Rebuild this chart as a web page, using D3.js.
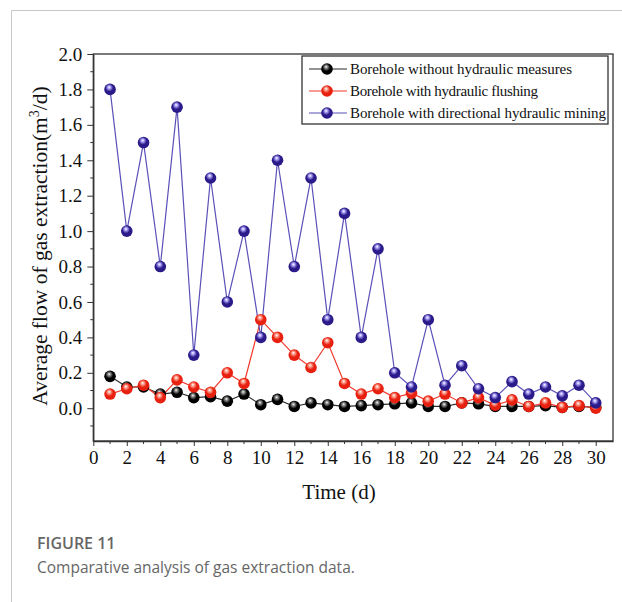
<!DOCTYPE html>
<html>
<head>
<meta charset="utf-8">
<script src="https://cdn.jsdelivr.net/npm/d3@7"></script>
<style>
  body { margin: 0; background: #fff; }
  svg { display: block; }
</style>
</head>
<body>
<div id="chart"></div>
<script>
// days on the x axis
var days = d3.range(1, 31);

// average gas flow (m3/d)
var withoutHydraulic = [0.18, 0.12, 0.12, 0.08, 0.09, 0.06, 0.065, 0.04, 0.08, 0.02,
  0.05, 0.01, 0.03, 0.02, 0.01, 0.015, 0.02, 0.025, 0.03, 0.01,
  0.01, 0.03, 0.025, 0.01, 0.01, 0.01, 0.015, 0.005, 0.01, 0.005];
var hydraulicFlushing = [0.08, 0.11, 0.13, 0.06, 0.16, 0.12, 0.09, 0.2, 0.14, 0.5,
  0.4, 0.3, 0.23, 0.37, 0.14, 0.08, 0.11, 0.06, 0.085, 0.04,
  0.08, 0.03, 0.06, 0.017, 0.047, 0.01, 0.03, 0.005, 0.015, 0.0];
var directionalMining = [1.8, 1.0, 1.5, 0.8, 1.7, 0.3, 1.3, 0.6, 1.0, 0.4,
  1.4, 0.8, 1.3, 0.5, 1.1, 0.4, 0.9, 0.2, 0.12, 0.5,
  0.13, 0.24, 0.11, 0.06, 0.15, 0.08, 0.12, 0.07, 0.13, 0.03];

var seriesNames = ["Borehole without hydraulic measures",
  "Borehole with hydraulic flushing",
  "Borehole with directional hydraulic mining"];
var xTicks = d3.range(0, 31, 2);
var yTicks = [0, 0.2, 0.4, 0.6, 0.8, 1.0, 1.2, 1.4, 1.6, 1.8, 2.0];

var series = [
  {name: seriesNames[0], values: withoutHydraulic, line: "#2b2b2b", ball: "#000000", hi: "#9a9a9a", id: "gBlack"},
  {name: seriesNames[1], values: hydraulicFlushing, line: "#f2382a", ball: "#e8200f", hi: "#ffb0a0", id: "gRed"},
  {name: seriesNames[2], values: directionalMining, line: "#5b50b8", ball: "#2a1a8a", hi: "#b8b0ff", id: "gBlue"}
];

var W = 622, H = 602;
var plotLeft = 93.3, plotRight = 613, plotTop = 54, plotBottom = 441;

var svg = d3.select("#chart").append("svg")
  .attr("width", W)
  .attr("height", H);

// sphere-like marker gradients
var defs = svg.append("defs");
series.forEach(function(s){
  var g = defs.append("radialGradient")
    .attr("id", s.id)
    .attr("cx", "0.45").attr("cy", "0.4").attr("r", "0.6")
    .attr("fx", "0.42").attr("fy", "0.3");
  g.append("stop").attr("offset", "0").attr("stop-color", "#ffffff");
  g.append("stop").attr("offset", "0.18").attr("stop-color", s.hi);
  g.append("stop").attr("offset", "0.55").attr("stop-color", s.ball);
  g.append("stop").attr("offset", "1").attr("stop-color", s.ball);
});

// page frame
svg.append("path")
  .attr("d", "M11.5," + H + "V10.5H" + W)
  .attr("fill", "none")
  .attr("stroke", "#c8c8c8")
  .attr("stroke-width", 1);

var x = d3.scaleLinear().domain([0, 31.03]).range([plotLeft, plotRight]);
var y = d3.scaleLinear().domain([-0.185, 2.0]).range([plotBottom, plotTop]);

var serif = "'Liberation Serif', 'Times New Roman', serif";

// plot box
svg.append("rect")
  .attr("x", plotLeft).attr("y", plotTop)
  .attr("width", plotRight - plotLeft).attr("height", plotBottom - plotTop)
  .attr("fill", "none")
  .attr("stroke", "#333")
  .attr("stroke-width", 1.3);

// x axis
var xAxis = svg.append("g")
  .attr("transform", "translate(0," + plotBottom + ")")
  .call(d3.axisBottom(x).tickValues(xTicks).tickSize(5).tickSizeOuter(0).tickFormat(d3.format("d")));
xAxis.append("g").selectAll("line")
  .data(d3.range(1, 31, 2))
  .enter().append("line")
  .attr("x1", function(d){ return x(d); })
  .attr("x2", function(d){ return x(d); })
  .attr("y1", 0).attr("y2", 3)
  .attr("stroke", "#333");

// y axis
var yAxis = svg.append("g")
  .attr("transform", "translate(" + plotLeft + ",0)")
  .call(d3.axisLeft(y).tickValues(yTicks).tickSize(6).tickSizeOuter(0).tickFormat(d3.format(".1f")));
yAxis.append("g").selectAll("line")
  .data([-0.1, 0.1, 0.3, 0.5, 0.7, 0.9, 1.1, 1.3, 1.5, 1.7, 1.9])
  .enter().append("line")
  .attr("y1", function(d){ return y(d); })
  .attr("y2", function(d){ return y(d); })
  .attr("x1", 0).attr("x2", -3)
  .attr("stroke", "#333");

svg.selectAll(".domain").attr("stroke", "#333").attr("stroke-width", 1.3);
svg.selectAll(".tick line").attr("stroke", "#333");
svg.selectAll(".tick text")
  .style("font-family", serif)
  .style("font-size", "19px")
  .attr("fill", "#111");
xAxis.selectAll(".tick text").attr("y", 10);
yAxis.selectAll(".tick text").attr("x", -11);

// axis titles
svg.append("text")
  .attr("x", 339)
  .attr("y", 499)
  .attr("text-anchor", "middle")
  .style("font-family", serif)
  .style("font-size", "21px")
  .attr("fill", "#111")
  .text("Time (d)");

var yTitle = svg.append("text")
  .attr("transform", "translate(47,246) rotate(-90)")
  .attr("text-anchor", "middle")
  .style("font-family", serif)
  .style("font-size", "21.5px")
  .attr("fill", "#111");
yTitle.append("tspan").text("Average flow of gas extraction(m");
yTitle.append("tspan").attr("dy", -8).style("font-size", "14px").text("3");
yTitle.append("tspan").attr("dy", 8).text("/d)");

// lines and markers
var line = d3.line()
  .x(function(d, i){ return x(days[i]); })
  .y(function(d){ return y(d); });

series.forEach(function(s){
  svg.append("path")
    .datum(s.values)
    .attr("d", line)
    .attr("fill", "none")
    .attr("stroke", s.line)
    .attr("stroke-width", 1.2);
});

series.forEach(function(s){
  svg.append("g").selectAll("circle")
    .data(s.values)
    .enter().append("circle")
    .attr("cx", function(d, i){ return x(days[i]); })
    .attr("cy", function(d){ return y(d); })
    .attr("r", 5.8)
    .attr("fill", "url(#" + s.id + ")");
});

// legend
var legend = svg.append("g");
legend.append("rect")
  .attr("x", 302).attr("y", 56)
  .attr("width", 306).attr("height", 68)
  .attr("fill", "#fff")
  .attr("stroke", "#333")
  .attr("stroke-width", 1.3);

var item = legend.selectAll(".item")
  .data(series)
  .enter().append("g")
  .attr("class", "item")
  .attr("transform", function(d, i){ return "translate(0," + (69 + i * 22) + ")"; });

item.append("line")
  .attr("x1", 309).attr("x2", 347)
  .attr("stroke", function(d){ return d.line; })
  .attr("stroke-width", 1.2);
item.append("circle")
  .attr("cx", 327).attr("r", 5.8)
  .attr("fill", function(d){ return "url(#" + d.id + ")"; });
item.append("text")
  .attr("x", 350).attr("y", 5)
  .style("font-family", serif)
  .style("font-size", "15px")
  .attr("textLength", function(d, i){ return [222, 188, 256][i]; })
  .attr("fill", "#111")
  .text(function(d){ return d.name; });

// caption
svg.append("text")
  .attr("x", 37).attr("y", 549)
  .style("font-family", "'Open Sans', 'Noto Sans', sans-serif")
  .style("font-size", "16px")
  .style("font-weight", "600")
  .attr("fill", "#666")
  .text("FIGURE 11");
svg.append("text")
  .attr("x", 37).attr("y", 573)
  .style("font-family", "'Open Sans', 'Noto Sans', sans-serif")
  .style("font-size", "15.5px")
  .attr("fill", "#666")
  .text("Comparative analysis of gas extraction data.");
</script>
</body>
</html>
